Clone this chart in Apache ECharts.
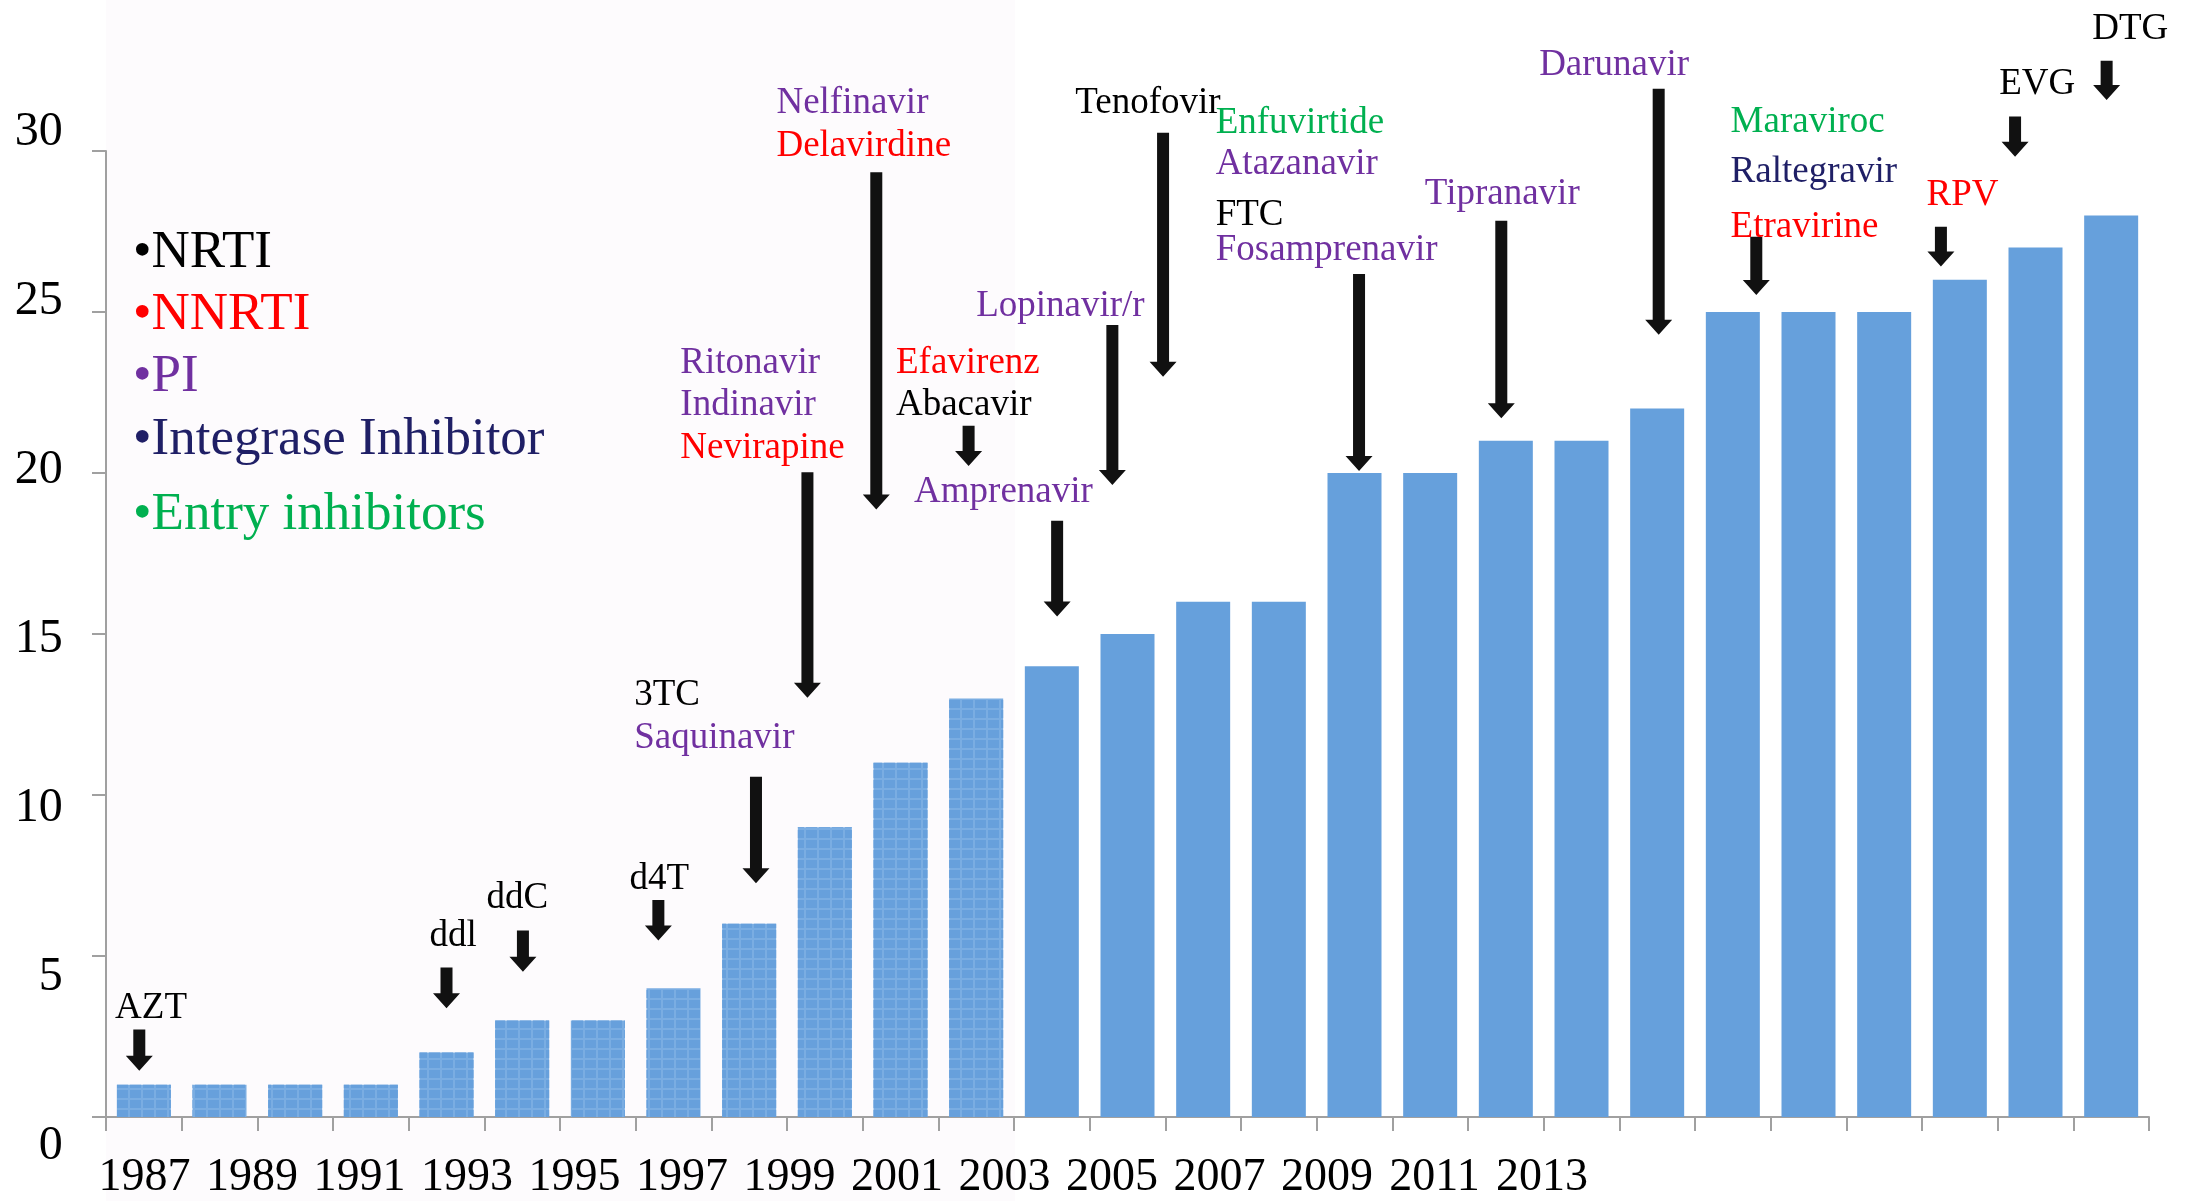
<!DOCTYPE html>
<html>
<head>
<meta charset="utf-8">
<script src="https://cdn.jsdelivr.net/npm/echarts@6/dist/echarts.min.js"></script>
<style>
html,body{margin:0;padding:0;background:#fff;}
#chart{width:2185px;height:1201px;}
</style>
</head>
<body>
<div id="chart"></div>
<script>
// ---------- DATA ----------
const years = ['1987','1988','1989','1990','1991','1992','1993','1994','1995','1996','1997','1998','1999','2000',
  '2001','2002','2003','2004','2005','2006','2007','2008','2009','2010','2011','2012','2013'];
const drugCounts = [1,1,1,1,2,3,3,4,6,9,11,13,14,15,16,16,20,20,21,21,22,25,25,25,26,27,28];
const yearTickLabels = ['1987','1989','1991','1993','1995','1997','1999','2001','2003','2005','2007','2009','2011','2013'];
const valueTicks = [0,5,10,15,20,25,30];

// drug classes (legend)
const classNames = ['NRTI','NNRTI','PI','Integrase Inhibitor','Entry inhibitors'];
const classColors = ['#000000','#ff0000','#7030a0','#1f1f66','#00b050'];

// annotation texts: name, colour group (index into classColors), x (category index units), y (value units)
const noteNames = ['AZT','ddl','ddC','d4T','3TC','Saquinavir','Ritonavir','Indinavir','Nevirapine',
  'Nelfinavir','Delavirdine','Efavirenz','Abacavir','Amprenavir','Lopinavir/r','Tenofovir',
  'Enfuvirtide','Atazanavir','FTC','Fosamprenavir','Tipranavir','Darunavir',
  'Maraviroc','Raltegravir','Etravirine','RPV','EVG','DTG'];
const noteColorGroup = [0,0,0,0,0,2,2,2,1, 2,1,1,0,2,2,0, 4,2,0,2,2,2, 4,3,1,1,0,0];
const noteX = [-0.38,3.775,4.53,6.42,6.48,6.48,7.09,7.09,7.09, 8.36,8.36,9.94,9.94,10.18,11.0,12.31,
  14.165,14.165,14.165,14.165,16.93,18.44, 20.97,20.97,20.97,23.56,24.52,25.75];
const noteY = [3.49,5.74,6.91,7.51,13.21,11.88,23.53,22.24,20.89, 31.61,30.26,23.54,22.23,19.52,25.29,31.61,
  31.0,29.7,28.14,27.03,28.77,32.8, 31.01,29.45,27.77,28.76,32.19,33.9];

// arrows: x (category index units), start value, tip value
const arrowX =    [-0.06,4.0,5.01,6.8,8.09,8.77,9.68,10.9,12.07,12.80,13.47,16.06,17.94,20.02,21.31,23.75,24.73,25.94];
const arrowFrom = [2.72,4.64,5.79,6.74,10.57,20.02,29.34,21.47,18.52,24.6,30.57,26.18,27.83,31.93,27.34,27.65,31.07,32.8];
const arrowTo =   [1.44,3.38,4.51,5.48,7.26,13.02,18.87,20.22,15.54,19.63,22.99,20.06,21.7,24.29,25.53,26.41,29.82,31.58];

// ---------- CHART ----------
const SERIF = '"Liberation Serif","Times New Roman",serif';
const TEXT_SHIFT = 4; // font-metric correction, px
const chart = echarts.init(document.getElementById('chart'), null, {renderer:'canvas'});

const barData = drugCounts.map((v, i) => i < 12 ? {
  value: v,
  itemStyle: {
    color: '#7aade2',
    decal: {symbol:'rect', symbolSize:1, dashArrayX:[[11,2]], dashArrayY:[8,2], color:'#67a0dc'}
  }
} : v);

const legendY = [253, 315, 377, 440, 515];
const graphics = [
  {type:'rect', z:-10, silent:true, shape:{x:106, y:0, width:909, height:1201}, style:{fill:'#fdfbfd'}}
];
classNames.forEach((n, i) => {
  graphics.push({type:'text', z:10, x:133, y:legendY[i],
    style:{text:'\u2022' + n, fill:classColors[i], font:'53px ' + SERIF,
      align:'left', verticalAlign:'middle', textAlign:'left', textVerticalAlign:'middle'}});
});

const option = {
  animation: false,
  backgroundColor: '#ffffff',
  graphic: graphics,
  grid: [
    {left:106, right:36, top:151, bottom:84},
    {left:90.75, right:589.25, top:132, bottom:44}
  ],
  xAxis: [
    {type:'category', gridIndex:0, data:years,
      axisLine:{onZero:false, lineStyle:{color:'#a0a0a0', width:2}},
      axisTick:{show:true, length:14, lineStyle:{color:'#a0a0a0', width:2}},
      axisLabel:{show:false}, splitLine:{show:false}},
    {type:'value', gridIndex:0, min:-0.5, max:26.5, show:false},
    {type:'category', gridIndex:1, data:yearTickLabels,
      axisLine:{show:false}, axisTick:{show:false},
      axisLabel:{show:true, interval:0, margin:9, fontSize:46, lineHeight:46, fontFamily:SERIF, color:'#000'}}
  ],
  yAxis: [
    {type:'value', gridIndex:0, min:0, max:30, interval:5,
      axisLine:{show:true, onZero:false, lineStyle:{color:'#a0a0a0', width:2}},
      axisTick:{show:true, length:14, lineStyle:{color:'#a0a0a0', width:2}},
      axisLabel:{show:false}, splitLine:{show:false}},
    {type:'value', gridIndex:1, min:0, max:30, interval:5,
      axisLine:{show:false}, axisTick:{show:false}, splitLine:{show:false},
      axisLabel:{show:true, margin:28, fontSize:48, fontFamily:SERIF, color:'#000'}}
  ],
  series: [
    {type:'bar', xAxisIndex:0, yAxisIndex:0, data:barData, barWidth:54,
      itemStyle:{color:'#66a0dc'}, z:2},
    {type:'custom', xAxisIndex:1, yAxisIndex:0, clip:false, z:5,
      data: arrowX.map((x, i) => [x, arrowFrom[i], arrowTo[i]]),
      renderItem: function(params, api){
        const p1 = api.coord([api.value(0), api.value(1)]);
        const p2 = api.coord([api.value(0), api.value(2)]);
        const cx = p1[0], sw = 6, hw = 13.5, hl = 15;
        const yb = p2[1] - hl;
        return {type:'polygon', shape:{points:[
          [cx - sw, p1[1]], [cx + sw, p1[1]], [cx + sw, yb], [cx + hw, yb],
          [cx, p2[1]], [cx - hw, yb], [cx - sw, yb]
        ]}, style:{fill:'#111111'}};
      }},
    {type:'custom', xAxisIndex:1, yAxisIndex:0, clip:false, z:6,
      data: noteX.map((x, i) => [x, noteY[i]]),
      renderItem: function(params, api){
        const p = api.coord([api.value(0), api.value(1)]);
        const i = params.dataIndex;
        return {type:'text', x:p[0], y:p[1] + TEXT_SHIFT, style:{
          text: noteNames[i], fill: classColors[noteColorGroup[i]], font:'37px ' + SERIF,
          align:'left', verticalAlign:'middle', textAlign:'left', textVerticalAlign:'middle'}};
      }}
  ]
};
chart.setOption(option);
</script>
</body>
</html>
